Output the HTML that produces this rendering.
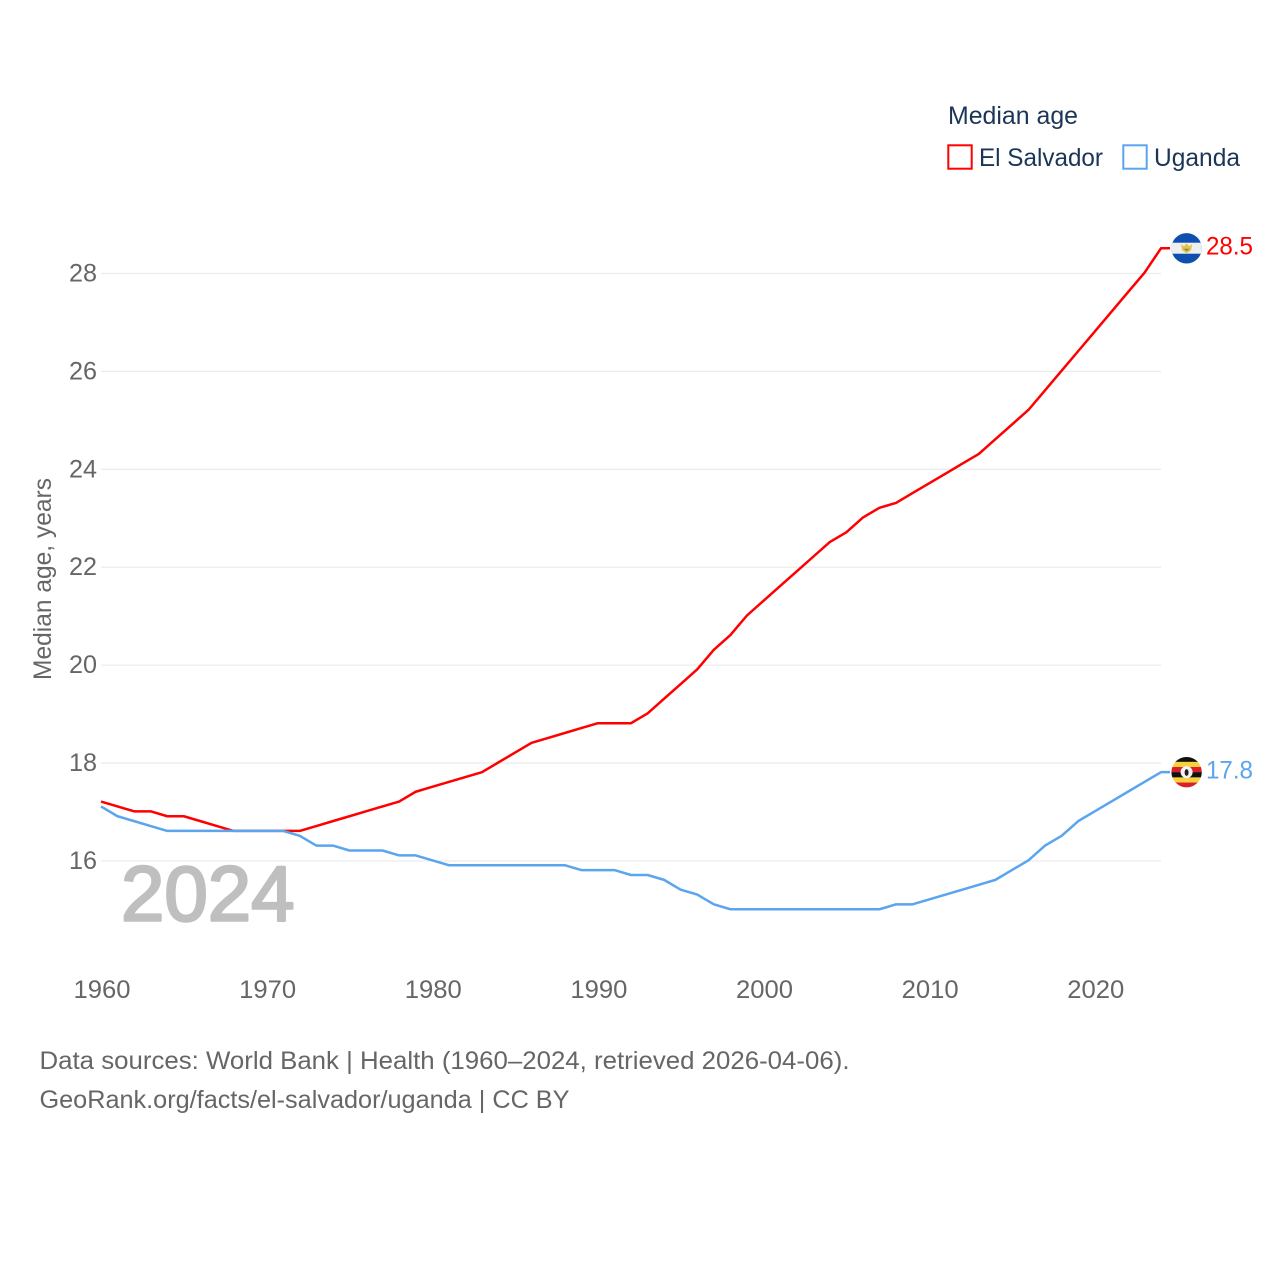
<!DOCTYPE html>
<html lang="en">
<head>
<meta charset="utf-8">
<title>Median age: El Salvador and Uganda</title>
<style>
html,body{margin:0;padding:0;background:#fff;width:1280px;height:1280px;overflow:hidden}
svg{display:block}
text{font-family:"Liberation Sans",sans-serif}
</style>
</head>
<body>
<svg id="chart" xmlns="http://www.w3.org/2000/svg" width="1280" height="1280" viewBox="0 0 1280 1280">
  <rect width="1280" height="1280" fill="#fff"/>
  <defs>
    <clipPath id="flag-clip-sv"><circle id="clip-sv" cx="1186.6" cy="248.5" r="15.2"/></clipPath>
    <clipPath id="flag-clip-ug"><circle id="clip-ug" cx="1186.6" cy="772" r="15.2"/></clipPath>
  </defs>
  <g id="grid"></g>
  <g id="yticks"></g>
  <g id="xticks"></g>
  <text transform="translate(51,680) rotate(-90)" font-size="25" fill="#666" textLength="202" lengthAdjust="spacingAndGlyphs">Median age, years</text>
  <text x="121" y="920.5" font-size="78" fill="#bfbfbf" stroke="#bfbfbf" stroke-width="2.5" stroke-linejoin="round">2024</text>
  <g id="lines"></g>
  <g id="flag-sv" clip-path="url(#flag-clip-sv)"></g>
  <g id="flag-ug" clip-path="url(#flag-clip-ug)"></g>
  <g id="end-labels"></g>
  <g>
    <text x="948" y="124" font-size="25" fill="#1b3557" textLength="130" lengthAdjust="spacingAndGlyphs">Median age</text>
    <g>
      <rect x="948.3" y="145.3" width="23.4" height="23.4" fill="#fff" stroke="#ff0000" stroke-width="2"/>
      <text x="979" y="166" font-size="25" fill="#1b3557" textLength="124" lengthAdjust="spacingAndGlyphs">El Salvador</text>
    </g>
    <g>
      <rect x="1123.3" y="145.3" width="23.4" height="23.4" fill="#fff" stroke="#5ba4ee" stroke-width="2"/>
      <text x="1154" y="166" font-size="25" fill="#1b3557" textLength="86" lengthAdjust="spacingAndGlyphs">Uganda</text>
    </g>
  </g>
  <g>
    <text x="39.5" y="1069" font-size="25" fill="#666" textLength="810" lengthAdjust="spacingAndGlyphs">Data sources: World Bank | Health (1960–2024, retrieved 2026-04-06).</text>
    <text x="39.5" y="1108" font-size="25" fill="#666" textLength="530" lengthAdjust="spacingAndGlyphs">GeoRank.org/facts/el-salvador/uganda | CC BY</text>
  </g>
</svg>
<script>
const years = [1960,1961,1962,1963,1964,1965,1966,1967,1968,1969,1970,1971,1972,1973,1974,1975,1976,1977,1978,1979,1980,1981,1982,1983,1984,1985,1986,1987,1988,1989,1990,1991,1992,1993,1994,1995,1996,1997,1998,1999,2000,2001,2002,2003,2004,2005,2006,2007,2008,2009,2010,2011,2012,2013,2014,2015,2016,2017,2018,2019,2020,2021,2022,2023,2024];
const elSalvador = [17.2,17.1,17.0,17.0,16.9,16.9,16.8,16.7,16.6,16.6,16.6,16.6,16.6,16.7,16.8,16.9,17.0,17.1,17.2,17.4,17.5,17.6,17.7,17.8,18.0,18.2,18.4,18.5,18.6,18.7,18.8,18.8,18.8,19.0,19.3,19.6,19.9,20.3,20.6,21.0,21.3,21.6,21.9,22.2,22.5,22.7,23.0,23.2,23.3,23.5,23.7,23.9,24.1,24.3,24.6,24.9,25.2,25.6,26.0,26.4,26.8,27.2,27.6,28.0,28.5];
const uganda = [17.1,16.9,16.8,16.7,16.6,16.6,16.6,16.6,16.6,16.6,16.6,16.6,16.5,16.3,16.3,16.2,16.2,16.2,16.1,16.1,16.0,15.9,15.9,15.9,15.9,15.9,15.9,15.9,15.9,15.8,15.8,15.8,15.7,15.7,15.6,15.4,15.3,15.1,15.0,15.0,15.0,15.0,15.0,15.0,15.0,15.0,15.0,15.0,15.1,15.1,15.2,15.3,15.4,15.5,15.6,15.8,16.0,16.3,16.5,16.8,17.0,17.2,17.4,17.6,17.8];
const yTickValues = [16,18,20,22,24,26,28];
const xTickValues = [1960,1970,1980,1990,2000,2010,2020];

const NS = 'http://www.w3.org/2000/svg';
function xScale(year){ return 101 + (year - 1960) * (1060 / 64); }
function yScale(v){ return 861 - (v - 16) * 48.96; }
function yLine(v){ return yScale(v) - 0.7; }
function make(tag, attrs, parent){
  const el = document.createElementNS(NS, tag);
  for (const k in attrs) el.setAttribute(k, attrs[k]);
  parent.appendChild(el);
  return el;
}

const gridG = document.getElementById('grid');
const yG = document.getElementById('yticks');
yTickValues.forEach(function(v){
  const g = make('line', {x1:101, x2:1161, y1:yScale(v), y2:yScale(v), stroke:'#ececec', 'stroke-width':1.3}, gridG);
  
  
  const t = make('text', {x:97, y:yScale(v)+8, 'text-anchor':'end', 'font-size':25, fill:'#666', textLength:28, lengthAdjust:'spacingAndGlyphs'}, yG);
  
  
  t.textContent = String(v);
});

const xG = document.getElementById('xticks');
xTickValues.forEach(function(yr){
  const t = make('text', {x:xScale(yr)+1, y:998, 'text-anchor':'middle', 'font-size':25, fill:'#666', textLength:57, lengthAdjust:'spacingAndGlyphs'}, xG);
  
  
  t.textContent = String(yr);
});

function linePoints(values){
  const pts = values.map(function(v,i){ return xScale(years[i]).toFixed(2) + ',' + yLine(v).toFixed(2); });
  pts.push('1170,' + yLine(values[values.length-1]).toFixed(2));
  return pts.join(' ');
}
const linesG = document.getElementById('lines');
const redLine = make('polyline', {points:linePoints(elSalvador), fill:'none', stroke:'#ff0000', 'stroke-width':2.5, 'stroke-linejoin':'round'}, linesG);


const blueLine = make('polyline', {points:linePoints(uganda), fill:'none', stroke:'#5ba4ee', 'stroke-width':2.5, 'stroke-linejoin':'round'}, linesG);



const svY = yLine(elSalvador[elSalvador.length-1]);
const ugY = yLine(uganda[uganda.length-1]);
const cx = 1186.6;
document.getElementById('clip-sv').setAttribute('cy', svY);
document.getElementById('clip-ug').setAttribute('cy', ugY);

const fs = document.getElementById('flag-sv');
make('rect', {x:1170, y:svY-16, width:34, height:32, fill:'#0f4fb0'}, fs);
make('rect', {x:1170, y:svY-5.6, width:34, height:11, fill:'#efefef'}, fs);
make('path', {d:'M'+(cx-5.5)+' '+(svY-4)+'l3 2l2.5-3l2.5 3l3-2l-1 6l-4.5 3l-4.5-3z', fill:'#e8c04a'}, fs);
make('path', {d:'M'+(cx-3)+' '+(svY+0.5)+'h6l-3 2.5z', fill:'#6f9a3a'}, fs);

const fu = document.getElementById('flag-ug');
const ugStripes = ['#111111','#f7d23e','#d9202a','#111111','#f7d23e','#d9202a'];
ugStripes.forEach(function(c,i){
  make('rect', {x:1170, y:ugY-15.5+i*5.17, width:34, height:5.3, fill:c}, fu);
});
make('circle', {cx:cx, cy:ugY, r:6, fill:'#f4f4f4'}, fu);
make('ellipse', {cx:cx, cy:ugY+0.3, rx:2, ry:3.4, fill:'#222'}, fu);

const endG = document.getElementById('end-labels');
const endSv = make('text', {x:1206, y:svY+6, 'font-size':25, fill:'#ff0000', textLength:47, lengthAdjust:'spacingAndGlyphs'}, endG);


endSv.textContent = elSalvador[elSalvador.length-1].toFixed(1);
const endUg = make('text', {x:1206, y:ugY+6.5, 'font-size':25, fill:'#5ba4ee', textLength:47, lengthAdjust:'spacingAndGlyphs'}, endG);


endUg.textContent = uganda[uganda.length-1].toFixed(1);
</script>
</body>
</html>
